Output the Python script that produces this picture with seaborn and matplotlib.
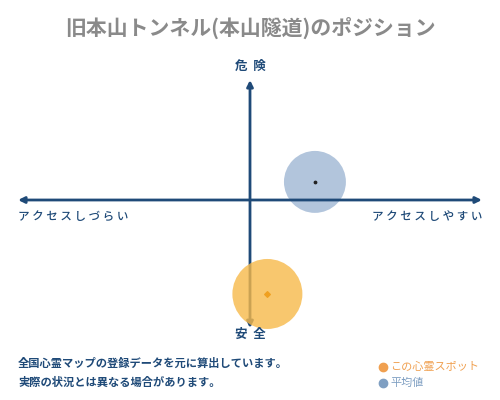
import pandas as pd
import matplotlib
matplotlib.use("Agg")
import matplotlib.pyplot as plt
import seaborn as sns

# Daten: Position der Spots (Skala -10..10, Mitte = 0)
labels = ["この心霊スポット", "平均値"]
access = [0.75, 2.8]      # x: アクセスしづらい (-) .. アクセスしやすい (+)
danger = [-4.05, 0.78]    # y: 安全 (-) .. 危険 (+)
bubble = [2540, 1990]

title = "旧本山トンネル(本山隧道)のポジション"
x_left, x_right = "アクセスしづらい", "アクセスしやすい"
y_top, y_bottom = "危険", "安全"
note_lines = ["全国心霊マップの登録データを元に算出しています。",
              "実際の状況とは異なる場合があります。"]

navy = "#1f4a78"
orange = "#f7b94a"
blue = "#95afcf"

df = pd.DataFrame({"label": labels, "x": access, "y": danger, "s": bubble})

sns.set_theme(style="white")
plt.rcParams["font.family"] = ["Noto Sans CJK JP", "DejaVu Sans"]

fig = plt.figure(figsize=(5, 4), dpi=100)
ax = fig.add_axes([0, 0, 1, 1])
ax.set_xlim(-10.78, 10.78)
ax.set_ylim(-8.62, 8.62)
ax.axis("off")

# Achsenkreuz mit Pfeilen
ax.annotate("", xy=(10.0, 0), xytext=(-10.0, 0),
            arrowprops=dict(arrowstyle="<|-|>", color=navy, lw=2,
                            mutation_scale=9, shrinkA=0, shrinkB=0), zorder=2)
ax.annotate("", xy=(0, 5.17), xytext=(0, -5.52),
            arrowprops=dict(arrowstyle="<|-|>", color=navy, lw=2,
                            mutation_scale=9, shrinkA=0, shrinkB=0), zorder=2)

# Blasen: Durchschnitt unter der Achse, Spot darüber
avg = df[df["label"] == "平均値"]
spot = df[df["label"] == "この心霊スポット"]
sns.scatterplot(data=avg, x="x", y="y", s=avg["s"].iloc[0], color=blue,
                alpha=0.72, edgecolor="none", ax=ax, zorder=1, legend=False)
sns.scatterplot(data=spot, x="x", y="y", s=spot["s"].iloc[0], color=orange,
                alpha=0.8, edgecolor="none", ax=ax, zorder=3, legend=False)
ax.scatter(avg["x"], avg["y"], s=3, color="#222222", zorder=4)
ax.scatter(spot["x"], spot["y"], s=8, color="#f0a020", marker="D", zorder=4)
ax.set_xlabel("")
ax.set_ylabel("")

# Beschriftungen
ax.text(0, 5.78, "  ".join(y_top), ha="center", va="center", fontsize=9,
        fontweight="bold", color=navy)
ax.text(0, -5.78, "  ".join(y_bottom), ha="center", va="center", fontsize=9,
        fontweight="bold", color=navy)
ax.text(-10.0, -0.7, " ".join(x_left), ha="left", va="center", fontsize=8.3,
        fontweight="medium", color=navy)
ax.text(10.0, -0.7, " ".join(x_right), ha="right", va="center", fontsize=8.3,
        fontweight="medium", color=navy)

fig.text(0.5, 1 - 28 / 400, title, ha="center", va="center", fontsize=15,
         fontweight="bold", color="#8a8a8a")

for i, line in enumerate(note_lines):
    fig.text(18 / 500, 1 - (363 + i * 19) / 400, line, ha="left", va="center",
             fontsize=8.1, fontweight="bold", color=navy)

# Legende unten rechts
leg_colors = ["#f0a050", "#7f9fc2"]
for i, (lab, col) in enumerate(zip(labels, leg_colors)):
    yy = 1 - (367 + i * 16) / 400
    ax.plot([383 / 500], [yy], marker="o", markersize=6, color=col,
            transform=fig.transFigure, clip_on=False)
    fig.text(390 / 500, yy, lab, ha="left", va="center", fontsize=8,
             color=col)

fig.savefig("out.png", dpi=100)
